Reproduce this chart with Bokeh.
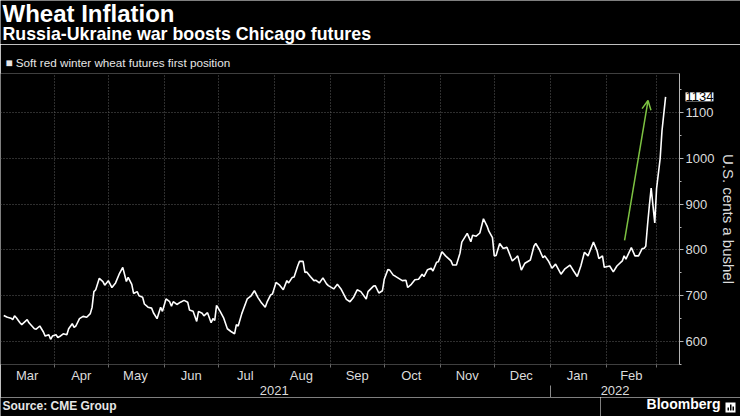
import pandas as pd
from bokeh.plotting import figure
from bokeh.layouts import column, row
from bokeh.models import (Range1d, LinearAxis, FixedTicker, Grid, Label, Arrow,
                          OpenHead, ColumnDataSource, DatetimeTickFormatter)
from bokeh.embed import file_html
from bokeh.resources import INLINE

# ---------------- data ----------------
dates = [
    "2021-03-04", "2021-03-06", "2021-03-08", "2021-03-09", "2021-03-10", "2021-03-11",
    "2021-03-13", "2021-03-14", "2021-03-17", "2021-03-18", "2021-03-21", "2021-03-22",
    "2021-03-24", "2021-03-26", "2021-03-27", "2021-03-29", "2021-03-30", "2021-03-31",
    "2021-04-02", "2021-04-03", "2021-04-04", "2021-04-06", "2021-04-08", "2021-04-09",
    "2021-04-11", "2021-04-12", "2021-04-13", "2021-04-15", "2021-04-17", "2021-04-19",
    "2021-04-21", "2021-04-22", "2021-04-23", "2021-04-24", "2021-04-26", "2021-04-28",
    "2021-04-29",
    "2021-05-01", "2021-05-03", "2021-05-05", "2021-05-07", "2021-05-09", "2021-05-11",
    "2021-05-12", "2021-05-14", "2021-05-15", "2021-05-17", "2021-05-18", "2021-05-20",
    "2021-05-21", "2021-05-23", "2021-05-25", "2021-05-26", "2021-05-28", "2021-05-30",
    "2021-05-31",
    "2021-06-02", "2021-06-04", "2021-06-05", "2021-06-06", "2021-06-08", "2021-06-10",
    "2021-06-12", "2021-06-14", "2021-06-15", "2021-06-17", "2021-06-19", "2021-06-20",
    "2021-06-22", "2021-06-23", "2021-06-25", "2021-06-27", "2021-06-28", "2021-06-29",
    "2021-06-30",
    "2021-07-02", "2021-07-04", "2021-07-06", "2021-07-08", "2021-07-10", "2021-07-11",
    "2021-07-12", "2021-07-14", "2021-07-17", "2021-07-19", "2021-07-21", "2021-07-23",
    "2021-07-25", "2021-07-27", "2021-07-28", "2021-07-30", "2021-07-31",
    "2021-08-02", "2021-08-04", "2021-08-06", "2021-08-08", "2021-08-09", "2021-08-11",
    "2021-08-12", "2021-08-14", "2021-08-15", "2021-08-17", "2021-08-18", "2021-08-19",
    "2021-08-21", "2021-08-23", "2021-08-24", "2021-08-26", "2021-08-28", "2021-08-30",
    "2021-08-31",
    "2021-09-03", "2021-09-05", "2021-09-07", "2021-09-10", "2021-09-12", "2021-09-14",
    "2021-09-16", "2021-09-18", "2021-09-21", "2021-09-22", "2021-09-25", "2021-09-26",
    "2021-09-28", "2021-09-30",
    "2021-10-01", "2021-10-03", "2021-10-04", "2021-10-06", "2021-10-07", "2021-10-09",
    "2021-10-11", "2021-10-13", "2021-10-14", "2021-10-16", "2021-10-18", "2021-10-20",
    "2021-10-22", "2021-10-23", "2021-10-25", "2021-10-27", "2021-10-28", "2021-10-30",
    "2021-10-31",
    "2021-11-02", "2021-11-04", "2021-11-07", "2021-11-08", "2021-11-10", "2021-11-12",
    "2021-11-13", "2021-11-16", "2021-11-18", "2021-11-19", "2021-11-21", "2021-11-23",
    "2021-11-25", "2021-11-27", "2021-11-28", "2021-11-30",
    "2021-12-01", "2021-12-02", "2021-12-04", "2021-12-06", "2021-12-08", "2021-12-11",
    "2021-12-13", "2021-12-14", "2021-12-16", "2021-12-18", "2021-12-21", "2021-12-23",
    "2021-12-24", "2021-12-26", "2021-12-28", "2021-12-29", "2021-12-31",
    "2022-01-02", "2022-01-04", "2022-01-07", "2022-01-09", "2022-01-12", "2022-01-14",
    "2022-01-16", "2022-01-18", "2022-01-20", "2022-01-22", "2022-01-25", "2022-01-27",
    "2022-01-28", "2022-01-30", "2022-01-31",
    "2022-02-03", "2022-02-05", "2022-02-07", "2022-02-10", "2022-02-11", "2022-02-12",
    "2022-02-15", "2022-02-17", "2022-02-19", "2022-02-21", "2022-02-22", "2022-02-23",
    "2022-02-24", "2022-02-25", "2022-02-26", "2022-02-28",
    "2022-03-01", "2022-03-03", "2022-03-04", "2022-03-06",
]
prices = [
    657, 653, 651, 648, 656, 652,
    641, 637, 648, 641, 628, 627,
    634, 621, 612, 615, 605, 612,
    615, 609, 611, 617, 615, 628,
    639, 631, 634, 650, 655, 653,
    661, 675, 709, 713, 738, 731,
    723,
    733, 718, 728, 747, 762, 731,
    740, 725, 705, 709, 700, 697,
    682, 675, 673, 663, 650, 675,
    666,
    693, 687, 677, 687, 681, 686,
    690, 686, 669, 666, 644, 666,
    662, 656, 663, 641, 650, 646,
    679,
    666, 651, 628, 622, 617, 637,
    634, 661, 693, 699, 711, 696,
    684, 675, 686, 702, 704,
    729, 723, 713, 733, 728, 740,
    741, 765, 775, 775, 751, 752,
    742, 733, 734, 728, 739, 726,
    722,
    715, 725, 715, 692, 687, 697,
    713, 709, 693, 709, 721, 722,
    706, 711,
    736, 757, 756, 745, 743, 738,
    733, 734, 718, 725, 735, 736,
    747, 742, 757, 760, 754, 773,
    774,
    796, 787, 776, 767, 767, 793,
    817, 836, 818, 832, 830, 837,
    868, 852, 841, 827,
    787, 788, 814, 803, 806, 776,
    783, 787, 756, 771, 778, 808,
    814, 801, 783, 787, 776,
    760, 769, 747, 758, 767, 754,
    742, 765, 795, 787, 817, 798,
    781, 787, 762,
    765, 752, 765, 776, 787, 780,
    805, 787, 787, 803, 803, 808,
    855, 897, 935, 859,
    934, 1000, 1060, 1134,
]

month_starts = ["2021-04-01", "2021-05-01", "2021-06-01", "2021-07-01", "2021-08-01",
                "2021-09-01", "2021-10-01", "2021-11-01", "2021-12-01", "2022-01-01",
                "2022-02-01", "2022-03-01"]
month_label_dates = ["2021-03-17", "2021-04-16", "2021-05-16", "2021-06-16", "2021-07-16",
                     "2021-08-16", "2021-09-16", "2021-10-16", "2021-11-16", "2021-12-16",
                     "2022-01-16", "2022-02-15"]
year_label_dates = ["2021-08-01", "2022-02-06"]
year_boundary = "2022-01-01"

y_ticks = [600, 700, 800, 900, 1000, 1100]
y_minor = [550, 650, 750, 850, 950, 1050, 1150]

arrow_start = ("2022-02-11 06:00", 821)
arrow_end = ("2022-02-24 06:00", 1126)

title_text = "Wheat Inflation"
subtitle_text = "Russia-Ukraine war boosts Chicago futures"
legend_text = "■ Soft red winter wheat futures first position"
axis_title = "U.S. cents a bushel"
source_text = "Source: CME Group"
brand_text = "Bloomberg"

# ---------------- helpers ----------------
def ms(d):
    return int(pd.Timestamp(d).value // 10**6)

FONT = "Liberation Sans"
TXT = "#dcdcdc"
GRID = "#5c5c5c"
GREEN = "#7dc242"
W = 740


def no_align(fig):
    if "frame_align" in fig.properties():
        fig.frame_align = False


def blank(width, height):
    f = figure(width=width, height=height, output_backend="svg", toolbar_location=None,
               x_range=Range1d(0, width), y_range=Range1d(0, height),
               x_axis_location=None, y_axis_location=None, title_location=None,
               background_fill_color="black", border_fill_color="black", min_border=0)
    f.outline_line_color = None
    f.grid.visible = False
    no_align(f)
    return f


def text(fig, x, y, txt, size, bold=False, color="white", align="left"):
    fig.add_layout(Label(x=x, y=y, x_units="screen", y_units="screen", text=txt,
                         text_font=FONT, text_font_size=size,
                         text_font_style="bold" if bold else "normal",
                         text_color=color, text_align=align))


# ---------------- header ----------------
HEAD_H = 44
header = blank(W, HEAD_H)
text(header, 2, HEAD_H - 26, title_text, "24px", bold=True)
text(header, 2, HEAD_H - 43, subtitle_text, "17.8px", bold=True)

# ---------------- main chart ----------------
FOOT_H = 19
MAIN_H = 416 - HEAD_H - FOOT_H

x_start = ms("2021-03-02 05:00")
x_end = ms("2022-03-13 17:00")
y_lo, y_hi = 550, 1185

src = ColumnDataSource(data=dict(date=pd.to_datetime(dates), price=prices))

p = figure(width=W, height=MAIN_H, output_backend="svg", toolbar_location=None,
           x_axis_type=None, y_axis_location="right", title_location=None,
           x_range=Range1d(x_start, x_end), y_range=Range1d(y_lo, y_hi),
           background_fill_color="black", border_fill_color="black",
           min_border_left=0, min_border_right=0, min_border_top=29,
           min_border_bottom=31)
p.outline_line_color = None
no_align(p)

ya = p.yaxis[0]
ya.ticker = FixedTicker(ticks=y_ticks, minor_ticks=y_minor)
ya.axis_line_color = "#b4b4b4"
ya.major_tick_line_color = "#b4b4b4"
ya.major_tick_in = 0
ya.major_tick_out = 4
ya.minor_tick_line_color = "#b4b4b4"
ya.minor_tick_in = 0
ya.minor_tick_out = 2
ya.major_label_text_color = TXT
ya.major_label_text_font = FONT
ya.major_label_text_font_size = "13px"
ya.major_label_standoff = 2
ya.axis_label = axis_title
ya.axis_label_text_font = FONT
ya.axis_label_text_font_size = "15px"
ya.axis_label_text_font_style = "normal"
ya.axis_label_text_color = TXT
ya.axis_label_standoff = 3

p.ygrid[0].ticker = FixedTicker(ticks=y_ticks)
p.ygrid[0].grid_line_color = GRID
p.ygrid[0].grid_line_dash = "1 2"

p.add_layout(Grid(dimension=0, ticker=FixedTicker(ticks=[ms(d) for d in month_starts]),
                  grid_line_color=GRID, grid_line_dash="1 2"))


def fmt(f):
    return DatetimeTickFormatter(microseconds=f, milliseconds=f, seconds=f, minsec=f,
                                 minutes=f, hourmin=f, hours=f, days=f, months=f, years=f)


month_axis = LinearAxis(ticker=FixedTicker(ticks=[ms(d) for d in month_label_dates],
                                           minor_ticks=[ms(d) for d in month_starts]),
                        formatter=fmt("%b"))
month_axis.axis_line_color = None
month_axis.major_tick_line_color = None
month_axis.major_tick_in = 0
month_axis.major_tick_out = 0
month_axis.minor_tick_line_color = "#6a6a6a"
month_axis.minor_tick_in = 0
month_axis.minor_tick_out = 3
month_axis.major_label_standoff = 0
month_axis.major_label_text_color = TXT
month_axis.major_label_text_font = FONT
month_axis.major_label_text_font_size = "13px"
p.add_layout(month_axis, "below")

year_axis = LinearAxis(ticker=FixedTicker(ticks=[ms(d) for d in year_label_dates],
                                          minor_ticks=[ms(year_boundary)]),
                       formatter=fmt("%Y"))
year_axis.axis_line_color = None
year_axis.major_tick_line_color = None
year_axis.major_tick_in = 0
year_axis.major_tick_out = 0
year_axis.minor_tick_line_color = "#8a8a8a"
year_axis.minor_tick_in = 0
year_axis.minor_tick_out = 14
year_axis.major_label_standoff = -14
year_axis.major_label_text_color = TXT
year_axis.major_label_text_font = FONT
year_axis.major_label_text_font_size = "13px"
p.add_layout(year_axis, "below")

p.line(x="date", y="price", source=src, line_color="white", line_width=1.6)

p.add_layout(Arrow(x_start=ms(arrow_start[0]), y_start=arrow_start[1],
                   x_end=ms(arrow_end[0]), y_end=arrow_end[1],
                   line_color=GREEN, line_width=1.5,
                   end=OpenHead(size=9, line_color=GREEN, line_width=1.5)))

# labels living in the top side panel (not clipped to the frame)
p.add_layout(Label(x=x_end, y=prices[-1], x_offset=6, text=str(prices[-1]),
                   text_color="black", text_font=FONT, text_font_size="13px",
                   text_baseline="middle", text_align="left",
                   background_fill_color="white"), "above")
p.add_layout(Label(x=x_start, y=y_hi, x_offset=5, y_offset=11, text=legend_text,
                   text_color="#e6e6e6", text_font=FONT, text_font_size="11.7px",
                   text_baseline="middle", text_align="left"), "above")

# ---------------- footer ----------------
FOOT_R = 140
foot_left = blank(W - FOOT_R, FOOT_H)
text(foot_left, 2, 4, source_text, "12px", bold=True, color="#e6e6e6")

foot_right = blank(FOOT_R, FOOT_H)
text(foot_right, 120, 5, brand_text, "14px", bold=True, align="right")
foot_right.quad(left=[125], right=[135], bottom=[4], top=[14], fill_color="white",
                line_color=None)
foot_right.quad(left=[127, 129.5, 132], right=[128.5, 131, 133.5], bottom=[6, 6, 6],
                top=[9, 12, 10], fill_color="black", line_color=None)

layout = column(header, p, row(foot_left, foot_right))
open("out.html", "w").write(file_html(layout, INLINE))
